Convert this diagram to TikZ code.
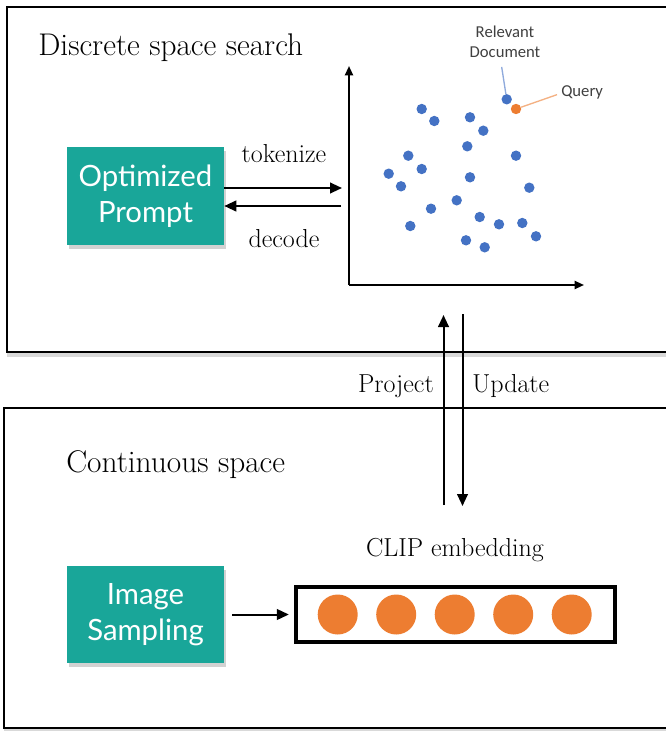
\documentclass[tikz,border=0pt]{standalone}
\usepackage{fontspec}
\newfontfamily\boxfont{Lato}
\newfontfamily\notefont{Carlito}
\usetikzlibrary{arrows.meta}
\usetikzlibrary{shadows}

\definecolor{tealbox}{RGB}{25,166,153}
\definecolor{dotblue}{RGB}{68,114,196}
\definecolor{dotorange}{RGB}{237,125,49}
\definecolor{linkblue}{RGB}{143,170,220}
\definecolor{linkorange}{RGB}{244,177,131}

\tikzset{
  panel/.style={draw, fill=white, line width=1.6pt,
    drop shadow={shadow xshift=0pt, shadow yshift=-4pt, opacity=0.3}},
  tealnode/.style={fill=tealbox, text=white, align=center, inner sep=0pt,
    font=\boxfont\fontsize{22}{27}\selectfont,
    minimum width=117.75pt, minimum height=73pt,
    drop shadow={shadow xshift=1.5pt, shadow yshift=-3pt, opacity=0.35}},
  heading/.style={anchor=base west, inner sep=0pt, font=\fontsize{23.5}{28}\selectfont},
  tag/.style={inner sep=0pt, font=\fontsize{19.5}{23}\selectfont},
  flow/.style={-{Triangle[length=9pt,width=8pt]}, line width=1.5pt},
  axis/.style={-{Triangle[length=7pt,width=6pt]}, line width=1.5pt},
  dot/.style={circle, fill=dotblue, inner sep=0pt, minimum size=7.8pt},
  emb/.style={circle, fill=dotorange, inner sep=0pt, minimum size=30pt},
  note/.style={inner sep=0pt, align=center, text=black!75, font=\notefont\fontsize{12.5}{15}\selectfont}
}

\begin{document}
\begin{tikzpicture}[x=0.75pt, y=-0.75pt]
  \useasboundingbox (0,0) rectangle (666,731);
  \clip (0,0) rectangle (666,731);

  % the two panels
  \path[panel] (7,7) rectangle (720,352);
  \path[panel] (4,408) rectangle (720,728);
  \node[heading] (discrete) at (38,56) {Discrete space search};
  \node[heading] (continuous) at (66,472) {Continuous space};

  % discrete space
  \node[tealnode] (prompt) at (145.5,196) {Optimized\\Prompt};
  \coordinate (origin) at (349,285);
  \coordinate (ytip) at (349,66);
  \coordinate (xtip) at (584,285);
  \draw[axis] (origin) -- (ytip);
  \draw[axis] (origin) -- (xtip);
  \coordinate (tokend) at (342,188);
  \coordinate (decstart) at (341,206);
  \draw[flow] (prompt.east |- tokend) -- (tokend);
  \draw[flow] (decstart) -- (prompt.east |- decstart);
  \node[tag, anchor=base] (tokenize) at (284,162) {tokenize};
  \node[tag, anchor=base] (decode) at (284,247) {decode};

  \foreach \px/\py in {421.7/109, 434.3/121, 470/117.3, 483.3/130.7, 467.3/146.3,
      516/155.7, 408.3/155.7, 421.7/169, 388.7/173.7, 401/186.3, 470/177.3,
      529.3/187.7, 456.7/200.3, 431/208.7, 410.3/226, 479.7/217, 499/224.3,
      522.3/223, 536/236.3, 466/240.3, 484.7/247.3}
    \node[dot] at (\px,\py) {};
  \node[dot] (doc) at (506.7,99.3) {};
  \node[dot, fill=dotorange] (query) at (516,109) {};
  \node[note] (doclabel) at (505,41.5) {Relevant\\Document};
  \node[note, anchor=west] (querylabel) at (561,92) {Query};
  \draw[linkblue, line width=1pt] ([xshift=-2.5pt,yshift=-7pt]doclabel.south) -- (doc);
  \draw[linkorange, line width=1pt] (query) -- ([xshift=-3pt,yshift=-2pt]querylabel.west);

  % between the spaces
  \coordinate (projlow) at (443.5,505);
  \coordinate (projhigh) at (443.5,315);
  \coordinate (updhigh) at (462.5,314);
  \coordinate (updlow) at (462.5,506);
  \draw[flow] (projlow) -- (projhigh);
  \draw[flow] (updhigh) -- (updlow);
  \node[tag, anchor=base east] (project) at (434,392) {Project};
  \node[tag, anchor=base west] (update) at (472,392) {Update};

  % continuous space
  \node[tealnode] (sampling) at (145.5,614.5) {Image\\Sampling};
  \node[draw, line width=3pt, minimum width=239pt, minimum height=41pt, inner sep=0pt]
    (embed) at (455.5,614.5) {};
  \node[tag, anchor=base] (cliplabel) at (455,556) {CLIP embedding};
  \foreach \i in {0,...,4}
    \node[emb] (e\i) at (337.7+58.5*\i,614.5) {};
  \draw[flow] ([xshift=6pt]sampling.east) -- ([xshift=-4pt]embed.west);
\end{tikzpicture}
\end{document}
